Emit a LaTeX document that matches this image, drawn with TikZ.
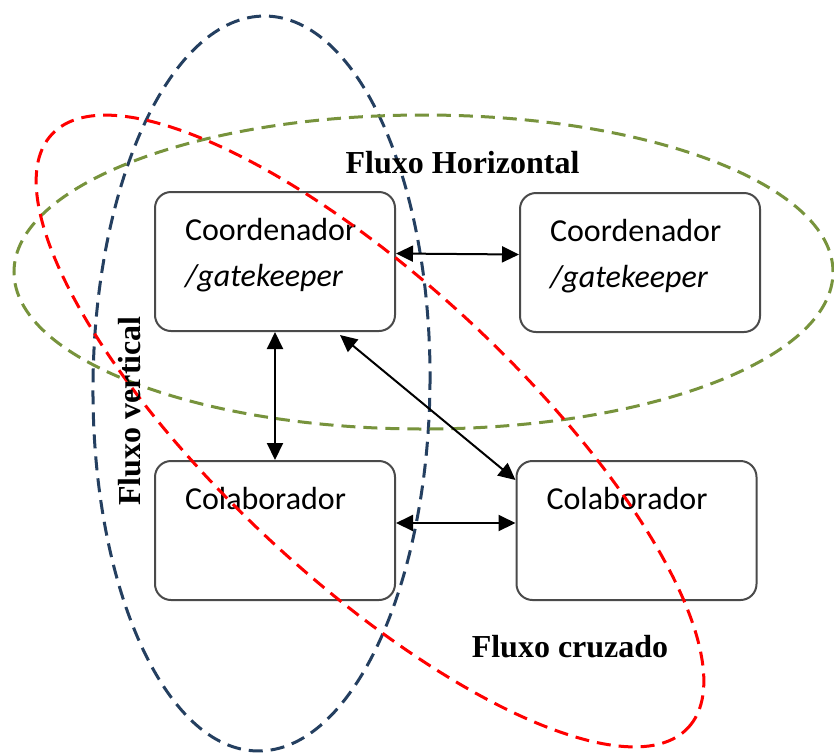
\documentclass[tikz,border=0pt]{standalone}
\usepackage{fontspec}
\setmainfont{Carlito}
\newfontfamily\labfont{Liberation Serif}
\usetikzlibrary{arrows.meta}
\definecolor{bluel}{HTML}{243F60}
\definecolor{greenl}{HTML}{77933C}
\definecolor{redl}{HTML}{FF0000}
\definecolor{boxline}{HTML}{4A4A4A}
\newcommand{\boxtxt}[2]{\strut #1\\\rule[-29pt]{0pt}{29pt}#2}
\begin{document}
\begin{tikzpicture}[x=1pt,y=1pt,
  fbox/.style={draw=boxline, line width=2pt, rounded corners=16pt,
    minimum width=240pt, minimum height=139pt, inner xsep=30pt, inner ysep=0pt,
    text width=180pt, align=left, font=\fontsize{32}{46}\selectfont},
  flux/.style={line width=3pt, dash pattern=on 14pt off 8pt},
  conn/.style={line width=2pt, {Triangle[length=17pt,width=16pt]}-{Triangle[length=17pt,width=16pt]}},
  lab/.style={font=\labfont\bfseries\fontsize{32}{38}\selectfont, inner sep=0pt}]
\useasboundingbox (0,0) rectangle (834,-753);
\fill[white] (0,0) rectangle (834,-753);
% boxes
\node[fbox] (A) at (275,-261.5) {\boxtxt{Coordenador}{\textit{/gatekeeper}}};
\node[fbox] (B) at (640,-262.5) {\boxtxt{Coordenador}{\textit{/gatekeeper}}};
\node[fbox] (C) at (275,-530.5) {\boxtxt{Colaborador}{}};
\node[fbox] (D) at (636.5,-530.5) {\boxtxt{Colaborador}{}};
% ellipses
\draw[flux, draw=bluel] (261.5,-383.5) ellipse [x radius=168.5, y radius=367.5, rotate=-0.6];
\draw[flux, draw=greenl] (423.5,-272) ellipse [x radius=409.5, y radius=157];
\draw[flux, draw=redl] (370,-431) ellipse [x radius=435, y radius=148, rotate=-43];
% connectors
\draw[conn] ([yshift=8pt]A.east) -- ([yshift=8pt]B.west);
\draw[conn] (A.south) -- (C.north);
\draw[conn] ([xshift=65pt,yshift=-3pt]A.south) -- ([yshift=-20pt]D.north west);
\draw[conn] ([yshift=7.5pt]C.east) -- ([yshift=7.5pt]D.west);
% labels
\node[lab, anchor=base] (lh) at (462.5,-173) {Fluxo Horizontal};
\node[lab, anchor=base] (lc) at (570,-657) {Fluxo cruzado};
\node[lab, anchor=base, rotate=90] (lv) at (140,-411) {Fluxo vertical};
\end{tikzpicture}
\end{document}
